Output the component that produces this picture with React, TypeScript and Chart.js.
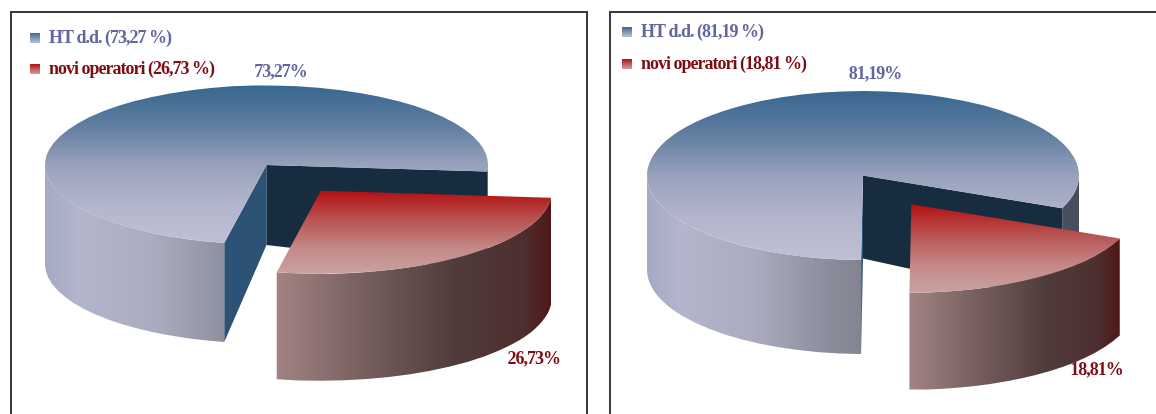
import React, { useEffect, useRef } from "react";
import { Chart, registerables } from "chart.js";

Chart.register(...registerables);

const categories = ["HT d.d.", "novi operatori"];
const valuesA = [73.27, 26.73];
const valuesB = [81.19, 18.81];

const FONT = '"Liberation Serif", serif';
const FONT_SIZE = 18;
const TEXT_COLORS = ["#62659f", "#7c0c12"];
const SWATCH_STOPS = [
  ["#3a6894", "#c0c0d5"],
  ["#b31010", "#c9a2a0"],
];
const TOP_STOPS: [number, string][][] = [
  [[0, "#37668f"], [0.25, "#5f7da0"], [0.5, "#98a2bc"], [0.75, "#b3b5cc"], [1, "#c0c0d5"]],
  [[0, "#b31010"], [0.35, "#b85353"], [0.7, "#c38a88"], [1, "#c9a2a0"]],
];
const WALL_STOPS: [number, string][][] = [
  [[0, "#a4a9c4"], [0.08, "#b3b5cc"], [0.25, "#aaabbe"], [0.4, "#8f909f"], [0.5, "#82838f"], [1, "#454c5c"]],
  [[0, "#a28383"], [0.3, "#786160"], [0.65, "#503b3b"], [0.9, "#4e2e2e"], [1, "#4f1616"]],
];
const FACE_COLORS = ["#2c5275", "#182c40"];

const fmt = (v: number) => v.toFixed(2).replace(".", ",");
const rad = (d: number) => (d * Math.PI) / 180;

type Cfg = {
  values: number[];
  left: number; top: number; width: number; height: number;
  padRight: number; padBottom: number; legendPad: number;
  radius: number; redRadius: number; squash: number;
  depth: number; redDepth: number; centerDepth: number;
  rotation: number; explode: number;
  labelOffsets: number[][];
};

const chartA: Cfg = {
  values: valuesA, left: 17, top: 16, width: 569, height: 398,
  padRight: 70, padBottom: 100, legendPad: 13,
  radius: 221.5, redRadius: 231, squash: 0.359, depth: 99, redDepth: 107, centerDepth: 80,
  rotation: 191, explode: 90,
  labelOffsets: [[14, -93], [213, 169]],
};
const chartB: Cfg = {
  values: valuesB, left: 608, top: 9, width: 548, height: 405,
  padRight: 38, padBottom: 72, legendPad: 14,
  radius: 216, redRadius: 226, squash: 0.391, depth: 94, redDepth: 97, centerDepth: 83,
  rotation: 180.5, explode: 88,
  labelOffsets: [[12, -101.5], [185, 166]],
};

function fill(g: CanvasGradient, stops: [number, string][]) {
  stops.forEach(([o, c]) => g.addColorStop(o, c));
  return g;
}

function makePlugin(cfg: Cfg) {
  const k = cfg.squash;
  const midY = (chart: any) => (chart.chartArea.top + chart.chartArea.bottom) / 2;
  return {
    id: "pie3d",
    beforeDraw(chart: any) {
      chart.ctx.letterSpacing = "-1px";
    },
    afterDatasetUpdate(chart: any, args: any) {
      const arc = args.meta.data[1];
      const mid = (arc.startAngle + arc.endAngle) / 2;
      arc.x += Math.cos(mid) * cfg.explode;
      arc.y += Math.sin(mid) * cfg.explode;
      arc.outerRadius = cfg.redRadius;
    },
    beforeDatasetDraw(chart: any, args: any) {
      const ctx = chart.ctx as CanvasRenderingContext2D;
      const cy0 = midY(chart);
      args.meta.data.forEach((arc: any, i: number) => {
        const R = arc.outerRadius;
        const depth = i === 0 ? cfg.depth : cfg.redDepth;
        const cx = arc.x;
        const cy = cy0 + k * (arc.y - cy0);
        const ry = R * k;
        const pt = (a: number) => [cx + R * Math.cos(a), cy + ry * Math.sin(a)];
        const s = arc.startAngle;
        const e = arc.endAngle;
        // radial cut faces of the main slice
        if (i === 0) {
          [s, e].forEach((a, j) => {
            const p = pt(a);
            ctx.beginPath();
            ctx.moveTo(cx, cy);
            ctx.lineTo(p[0], p[1]);
            ctx.lineTo(p[0], p[1] + depth);
            ctx.lineTo(cx, cy + cfg.centerDepth);
            ctx.closePath();
            ctx.fillStyle = FACE_COLORS[j];
            ctx.fill();
          });
        }
        // front wall, only where the rim faces the viewer
        const xa = i === 0 ? cx - R : pt(e)[0];
        const xb = i === 0 ? cx + R : pt(s)[0];
        const g = fill(ctx.createLinearGradient(xa, 0, xb, 0), WALL_STOPS[i]);
        for (let turn = -1; turn <= 2; turn++) {
          const a1 = Math.max(s, turn * 2 * Math.PI);
          const a2 = Math.min(e, turn * 2 * Math.PI + Math.PI);
          if (a2 <= a1) continue;
          ctx.beginPath();
          ctx.ellipse(cx, cy, R, ry, 0, a1, a2);
          ctx.ellipse(cx, cy + depth, R, ry, 0, a2, a1, true);
          ctx.closePath();
          ctx.fillStyle = g;
          ctx.fill();
        }
      });
      ctx.save();
      ctx.translate(0, cy0);
      ctx.scale(1, k);
      ctx.translate(0, -cy0);
    },
    afterDatasetDraw(chart: any, args: any) {
      const ctx = chart.ctx as CanvasRenderingContext2D;
      ctx.restore();
      const cy0 = midY(chart);
      ctx.save();
      ctx.font = `bold ${FONT_SIZE}px ${FONT}`;
      ctx.textAlign = "center";
      ctx.textBaseline = "middle";
      args.meta.data.forEach((arc: any, i: number) => {
        const cx = arc.x;
        const cy = cy0 + k * (arc.y - cy0);
        const [dx, dy] = cfg.labelOffsets[i];
        ctx.fillStyle = TEXT_COLORS[i];
        ctx.fillText(`${fmt(cfg.values[i])}%`, cx + dx, cy + dy);
      });
      ctx.restore();
    },
  };
}

function Pie3D({ cfg }: { cfg: Cfg }) {
  const ref = useRef<HTMLCanvasElement>(null);
  useEffect(() => {
    const canvas = ref.current!;
    const c2d = canvas.getContext("2d")!;
    const swatchFills = SWATCH_STOPS.map((stops, i) => {
      const rowCentre = cfg.legendPad + FONT_SIZE / 2 + i * (FONT_SIZE + cfg.legendPad);
      const g = c2d.createLinearGradient(0, rowCentre - 5, 0, rowCentre + 5);
      g.addColorStop(0, stops[0]);
      g.addColorStop(1, stops[1]);
      return g;
    });
    const chart = new Chart(canvas, {
      type: "pie",
      data: {
        labels: categories,
        datasets: [
          {
            data: cfg.values,
            borderWidth: 0,
            radius: cfg.radius,
            clip: false,
            backgroundColor: (c: any) => {
              const area = c.chart.chartArea;
              if (!area) return "#888";
              const i = c.dataIndex;
              const cy0 = (area.top + area.bottom) / 2;
              if (i === 0) {
                const R = cfg.radius;
                return fill(c.chart.ctx.createLinearGradient(0, cy0 - R, 0, cy0 + R), TOP_STOPS[0]);
              }
              const startDeg = cfg.rotation + (cfg.values[0] / 100) * 360 - 90;
              const midDeg = startDeg + (cfg.values[1] / 100) * 180;
              const yc = cy0 + Math.sin(rad(midDeg)) * cfg.explode;
              return fill(c.chart.ctx.createLinearGradient(0, yc, 0, yc + cfg.redRadius), TOP_STOPS[1]);
            },
          } as any,
        ],
      },
      options: {
        responsive: false,
        animation: false,
        rotation: cfg.rotation,
        layout: { padding: { left: 0, top: 0, right: cfg.padRight, bottom: cfg.padBottom } },
        plugins: {
          tooltip: { enabled: false },
          legend: {
            display: true,
            position: "chartArea" as any,
            align: "start",
            labels: {
              boxWidth: 10,
              boxHeight: 10,
              padding: cfg.legendPad,
              font: { family: FONT, size: FONT_SIZE, weight: "bold" },
              generateLabels: () =>
                categories.map((name, i) => ({
                  text: `${name} (${fmt(cfg.values[i])} %)`,
                  fillStyle: swatchFills[i],
                  strokeStyle: "rgba(0,0,0,0)",
                  lineWidth: 0,
                  fontColor: TEXT_COLORS[i],
                  index: i,
                })),
            },
          },
        },
      } as any,
      plugins: [makePlugin(cfg)],
    });
    return () => chart.destroy();
  }, [cfg]);
  return (
    <canvas
      ref={ref}
      width={cfg.width}
      height={cfg.height}
      style={{ position: "absolute", left: cfg.left, top: cfg.top, width: cfg.width, height: cfg.height }}
    />
  );
}

const frame = (left: number, width: number): React.CSSProperties => ({
  position: "absolute",
  left,
  top: 11,
  width,
  height: 460,
  border: "2px solid #3a3a3a",
  boxSizing: "border-box",
});

export default function App() {
  return (
    <div style={{ position: "fixed", left: 0, top: 0, width: 1156, height: 414, overflow: "hidden", background: "#fff" }}>
      <div style={frame(10, 578)} />
      <div style={frame(609, 600)} />
      <Pie3D cfg={chartA} />
      <Pie3D cfg={chartB} />
    </div>
  );
}
